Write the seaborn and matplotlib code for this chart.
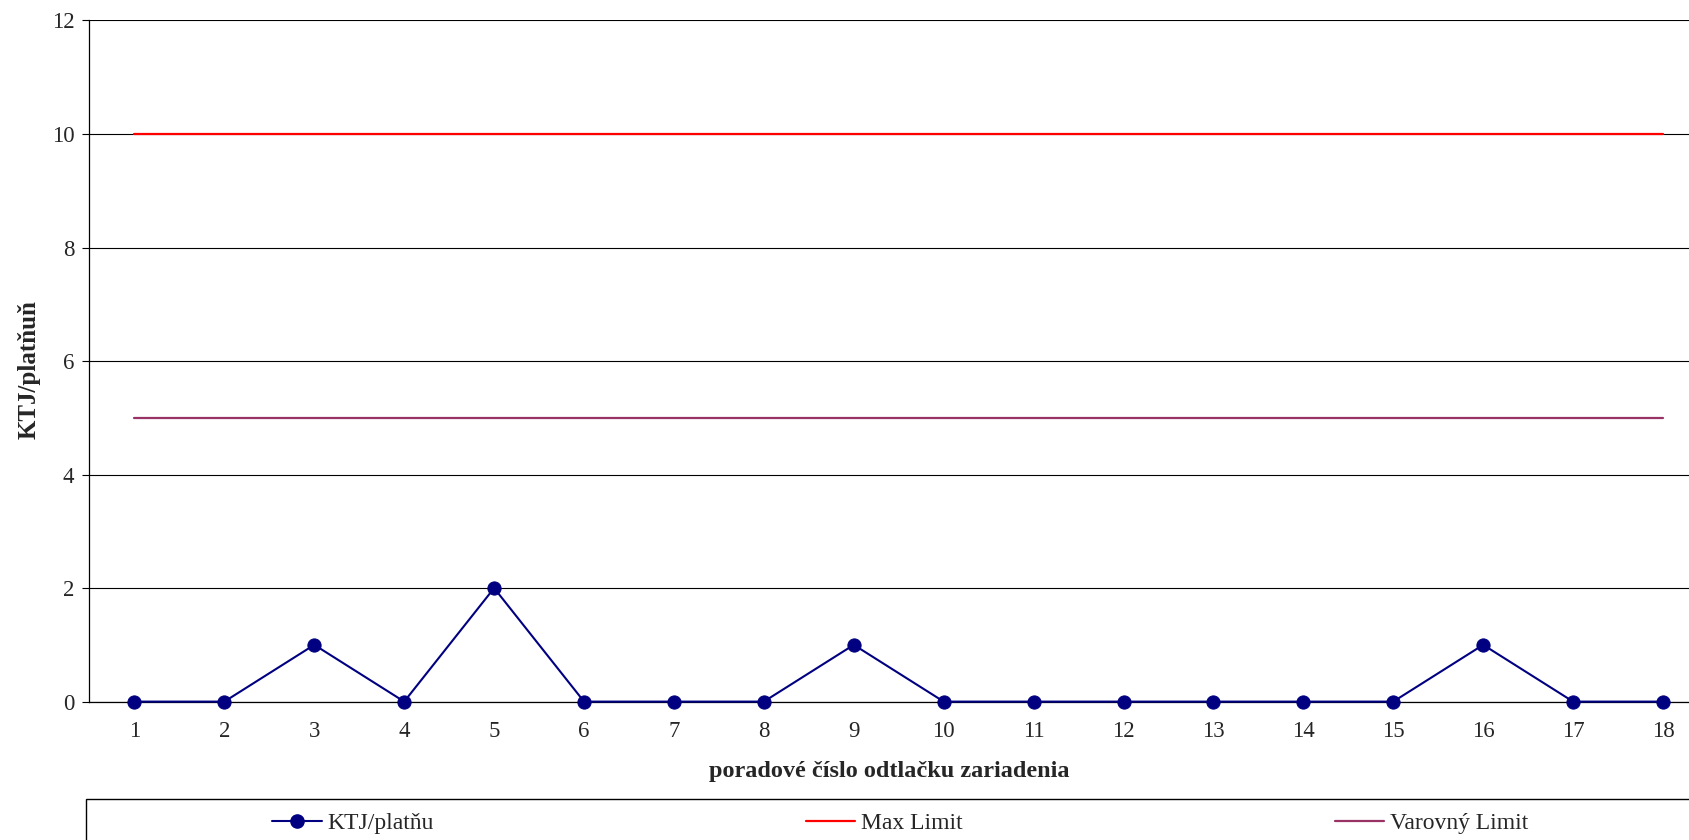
import matplotlib
matplotlib.use("Agg")
import matplotlib.pyplot as plt
from matplotlib.patches import Rectangle
from matplotlib.lines import Line2D
import seaborn as sns
import pandas as pd

# Sample sequence numbers and measured counts
odtlacky = list(range(1, 19))
ktj = [0, 0, 1, 0, 2, 0, 0, 0, 1, 0, 0, 0, 0, 0, 0, 1, 0, 0]
max_limit = [10] * 18
varovny_limit = [5] * 18
y_ticks = [0, 2, 4, 6, 8, 10, 12]

sns.set_style("white")
plt.rcParams["font.family"] = ["Liberation Serif", "DejaVu Serif"]

df = pd.DataFrame({"x": odtlacky, "ktj": ktj, "max": max_limit, "var": varovny_limit})

W, H = 1690, 840
fig = plt.figure(figsize=(W / 100, H / 100), dpi=100)
ax = fig.add_axes([89.5 / W, 1 - 701.6 / H, 1 - 89.5 / W, (701.6 - 20.5) / H])

navy = "#000080"
red = "#FF0000"
purple = "#993366"

sns.lineplot(data=df, x="x", y="max", ax=ax, color=red, linewidth=1.6, zorder=3)
sns.lineplot(data=df, x="x", y="var", ax=ax, color=purple, linewidth=1.6, zorder=3)
sns.lineplot(data=df, x="x", y="ktj", ax=ax, color=navy, linewidth=1.5,
             marker="o", markersize=9.5, markeredgecolor=navy, zorder=4, clip_on=False)

ax.set_xlim(0.5, 18.3)
ax.set_ylim(0, 12)
ax.set_yticks(y_ticks)
ax.set_yticklabels([str(v) for v in y_ticks], fontsize=16.5)
ax.set_xticks(odtlacky)
ax.set_xticklabels([str(v) for v in odtlacky], fontsize=16.5)
ax.set_xticks([v + 0.5 for v in odtlacky[:-1]], minor=True)
ax.tick_params(axis="x", which="major", length=0, pad=14)
ax.tick_params(axis="x", which="minor", direction="in", length=5, width=0.8, color="black")
ax.tick_params(axis="y", which="major", direction="out", length=5, width=0.8, color="black", pad=6, left=True)

ax.grid(axis="y", color="black", linewidth=0.8)
ax.grid(axis="x", visible=False)
for side in ("top", "right"):
    ax.spines[side].set_visible(False)
ax.spines["left"].set_color("black")
ax.spines["left"].set_linewidth(0.9)
ax.spines["bottom"].set_color("black")
ax.spines["bottom"].set_linewidth(0.9)

ax.set_xlabel("poradové číslo odtlačku zariadenia", fontsize=17.5, fontweight="bold", labelpad=14)
ax.set_ylabel("KTJ/platňuň", fontsize=18, fontweight="bold")
ax.yaxis.set_label_coords((41 - 89.5) / (W - 89.5), (701.6 - 370) / (701.6 - 20.5))

# Legend box along the bottom
fig.add_artist(Rectangle((86 / W, -0.01), 1.0, (H - 799) / H + 0.01,
                         transform=fig.transFigure, facecolor="white",
                         edgecolor="black", linewidth=1.0))
handles = [
    Line2D([], [], color=navy, linewidth=1.5, marker="o", markersize=9.5),
    Line2D([], [], color=red, linewidth=1.6),
    Line2D([], [], color=purple, linewidth=1.6),
]
labels = ["KTJ/platňu", "Max Limit", "Varovný Limit"]
fig.legend(handles, labels, ncol=3, loc="center left",
           bbox_to_anchor=(272 / W, (H - 823) / H), frameon=False,
           fontsize=17, handlelength=2.1, handletextpad=0.25, columnspacing=15.75,
           borderpad=0, borderaxespad=0)

fig.savefig("out.png", dpi=100)
